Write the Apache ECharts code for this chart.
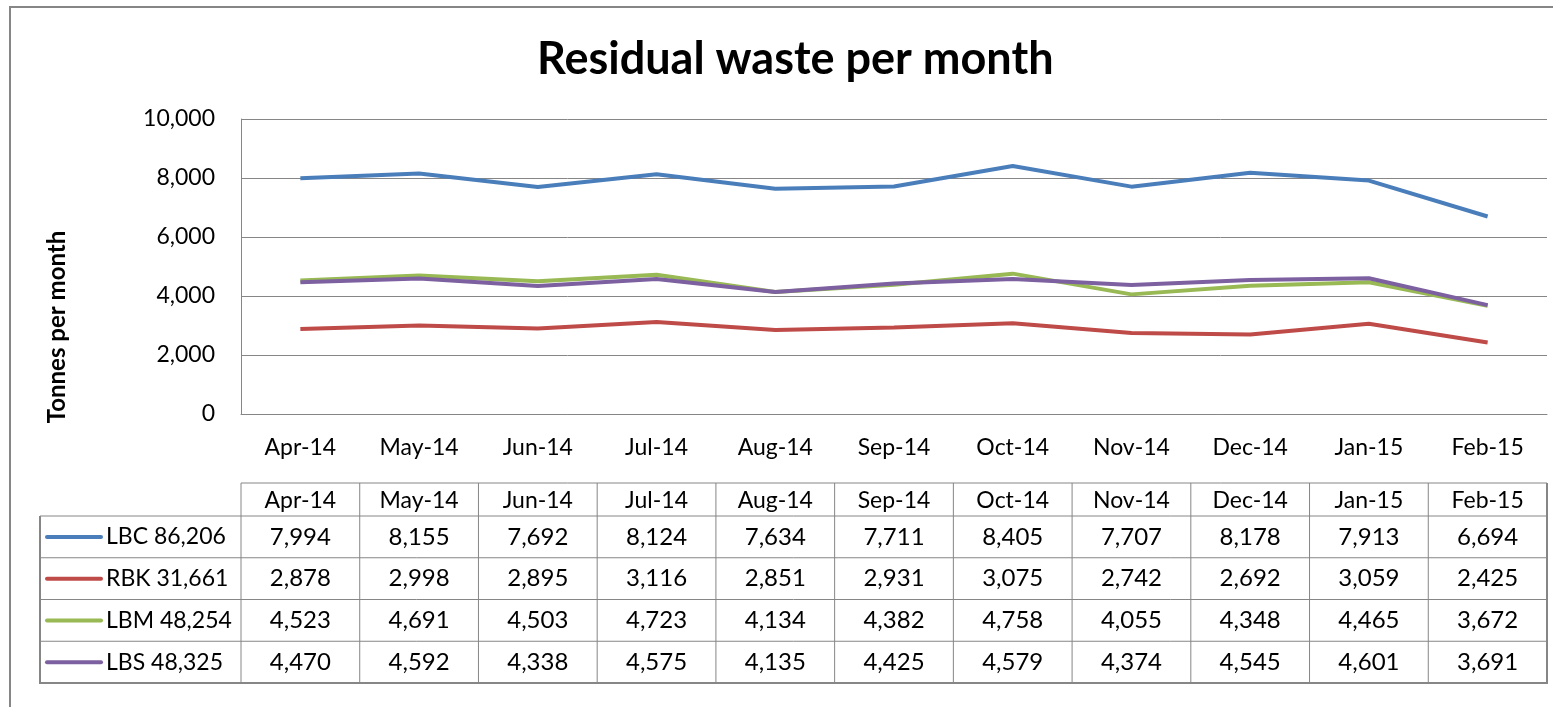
<!DOCTYPE html>
<html>
<head>
<meta charset="utf-8">
<title>Residual waste per month</title>
<script src="https://cdn.jsdelivr.net/npm/echarts@6/dist/echarts.min.js"></script>
<style type="text/css">
html, body { margin: 0; padding: 0; background: #fff; }
#chart { width: 1553px; height: 707px; }
</style>
</head>
<body>
<div id="chart"></div>
<script type="text/javascript">
// data
var months = ['Apr-14', 'May-14', 'Jun-14', 'Jul-14', 'Aug-14', 'Sep-14', 'Oct-14', 'Nov-14', 'Dec-14', 'Jan-15', 'Feb-15'];
var lbc = [7994, 8155, 7692, 8124, 7634, 7711, 8405, 7707, 8178, 7913, 6694];
var rbk = [2878, 2998, 2895, 3116, 2851, 2931, 3075, 2742, 2692, 3059, 2425];
var lbm = [4523, 4691, 4503, 4723, 4134, 4382, 4758, 4055, 4348, 4465, 3672];
var lbs = [4470, 4592, 4338, 4575, 4135, 4425, 4579, 4374, 4545, 4601, 3691];
var names = ['LBC 86,206', 'RBK 31,661', 'LBM 48,254', 'LBS 48,325'];
var colors = ['#4a7ebb', '#be4b48', '#98b954', '#7d60a0'];
var yTicks = [0, 2000, 4000, 6000, 8000, 10000];

var font = 'Lato, "Open Sans", sans-serif';
var gray = '#868686';
var fmt = function (v) { return v.toLocaleString('en-US'); };

var chart = echarts.init(document.getElementById('chart'));
var allSeries = [lbc, rbk, lbm, lbs];

chart.setOption({
    animation: false,
    title: {
        text: 'Residual waste per month',
        left: 532, top: 32,
        textStyle: { fontFamily: font, fontSize: 45, fontWeight: 'bold', color: '#000' }
    },
    grid: { left: 241, right: 6, top: 119, bottom: 293 },
    xAxis: {
        type: 'category',
        data: months,
        axisLine: { lineStyle: { color: gray } },
        axisTick: { show: false },
        axisLabel: { margin: 22, fontSize: 23, fontFamily: font, color: '#000' }
    },
    yAxis: {
        type: 'value',
        min: yTicks[0], max: yTicks[yTicks.length - 1], interval: 2000,
        axisLine: { show: true, lineStyle: { color: gray } },
        axisTick: { show: false },
        splitLine: { lineStyle: { color: gray } },
        axisLabel: { margin: 26, fontSize: 23, fontFamily: font, color: '#000', formatter: fmt }
    },
    series: allSeries.map(function (d, i) {
        return {
            name: names[i], type: 'line', data: d,
            symbol: 'none',
            lineStyle: { width: 4, color: colors[i] },
            itemStyle: { color: colors[i] }
        };
    })
});

// data table + frame, laid out from the axis positions
function buildTable() {
    var x0 = chart.convertToPixel({ xAxisIndex: 0 }, 0);
    var x1 = chart.convertToPixel({ xAxisIndex: 0 }, 1);
    var colW = x1 - x0;
    var tLeft = x0 - colW / 2;
    var tRight = tLeft + colW * months.length;
    var legLeft = 40;
    var headTop = 483, headBot = 516;
    var rowH = (683 - 516) / 4;
    var g = [];

    var line = function (xa, ya, xb, yb, w) {
        g.push({ type: 'line', shape: { x1: xa, y1: ya, x2: xb, y2: yb },
            style: { stroke: gray, lineWidth: w || 1 }, silent: true });
    };
    // outer chart frame (only top and left edges are in view)
    line(9, 7, 1560, 7, 2);
    line(10, 6, 10, 707, 2);
    // keep the strip right of the plot clear
    g.push({ type: 'rect', shape: { x: tRight + 2, y: 9, width: 20, height: 700 },
        style: { fill: '#fff' }, z: 1, silent: true });

    g.push({ type: 'text', x: 57, y: 327, rotation: Math.PI / 2,
        style: { text: 'Tonnes per month', font: 'bold 24px ' + font, fill: '#000',
            textAlign: 'center', textVerticalAlign: 'middle' } });

    // header row and cells
    line(tLeft, headTop, tRight, headTop);
    line(legLeft, headBot, tRight, headBot);
    for (var c = 0; c < months.length; c++) {
        line(tLeft + c * colW, headTop, tLeft + c * colW, headBot + rowH * 4);
    }
    for (var r = 1; r < 4; r++) line(legLeft, headBot + r * rowH, tRight, headBot + r * rowH);
    line(legLeft, headBot + 4 * rowH, tRight + 1, headBot + 4 * rowH, 2);
    line(legLeft, headBot, legLeft, headBot + 4 * rowH + 1, 2);
    line(tRight, headTop, tRight, headBot + 4 * rowH, 2);

    months.forEach(function (m, i) {
        g.push({ type: 'text', x: tLeft + (i + 0.5) * colW, y: (headTop + headBot) / 2 + 1,
            style: { text: m, font: '23px ' + font, fill: '#000', textAlign: 'center', textVerticalAlign: 'middle' } });
    });
    allSeries.forEach(function (d, r) {
        var cy = headBot + (r + 0.5) * rowH;
        g.push({ type: 'line', shape: { x1: 47, y1: cy, x2: 101, y2: cy },
            style: { stroke: colors[r], lineWidth: 4, lineCap: 'round' } });
        g.push({ type: 'text', x: 106, y: cy,
            style: { text: names[r], font: '23px ' + font, fill: '#000', textAlign: 'left', textVerticalAlign: 'middle' } });
        d.forEach(function (v, i) {
            g.push({ type: 'text', x: tLeft + (i + 0.5) * colW, y: cy,
                style: { text: fmt(v), font: '24px ' + font, fill: '#000', textAlign: 'center', textVerticalAlign: 'middle' } });
        });
    });
    chart.setOption({ graphic: g });
}
buildTable();
</script>
</body>
</html>
